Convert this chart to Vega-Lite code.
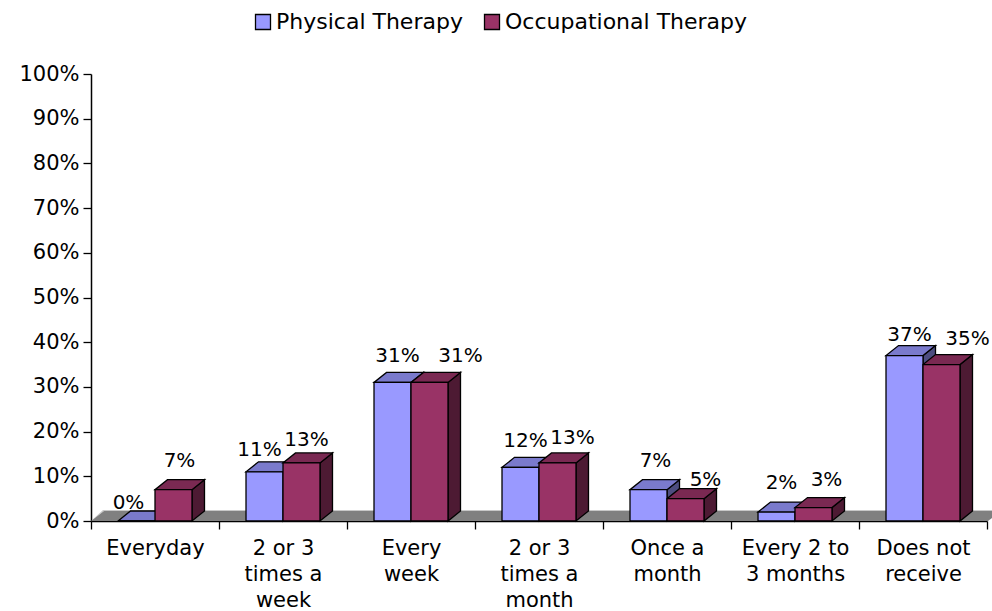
{"$schema":"https://vega.github.io/schema/vega-lite/v6.json","width":896,"height":447,"autosize":"none","padding":{"left":91,"top":74,"right":5,"bottom":90},"background":"white","config":{"view":{"stroke":null},"font":"DejaVu Sans"},"data":{"values":[{"category":"Everyday","therapy":"Physical Therapy","value":0,"label":"0%"},{"category":"Everyday","therapy":"Occupational Therapy","value":7,"label":"7%"},{"category":"2 or 3 times a week","therapy":"Physical Therapy","value":11,"label":"11%"},{"category":"2 or 3 times a week","therapy":"Occupational Therapy","value":13,"label":"13%"},{"category":"Every week","therapy":"Physical Therapy","value":31,"label":"31%"},{"category":"Every week","therapy":"Occupational Therapy","value":31,"label":"31%"},{"category":"2 or 3 times a month","therapy":"Physical Therapy","value":12,"label":"12%"},{"category":"2 or 3 times a month","therapy":"Occupational Therapy","value":13,"label":"13%"},{"category":"Once a month","therapy":"Physical Therapy","value":7,"label":"7%"},{"category":"Once a month","therapy":"Occupational Therapy","value":5,"label":"5%"},{"category":"Every 2 to 3 months","therapy":"Physical Therapy","value":2,"label":"2%"},{"category":"Every 2 to 3 months","therapy":"Occupational Therapy","value":3,"label":"3%"},{"category":"Does not receive","therapy":"Physical Therapy","value":37,"label":"37%"},{"category":"Does not receive","therapy":"Occupational Therapy","value":35,"label":"35%"}]},"encoding":{"x":{"field":"category","type":"nominal","sort":null,"scale":{"paddingInner":0,"paddingOuter":0},"axis":{"title":null,"labelAngle":0,"labelFontSize":21,"labelColor":"black","labelLineHeight":26,"labelPadding":8,"labelBaseline":"top","tickBand":"extent","tickSize":8,"tickColor":"black","tickWidth":1.3,"domainColor":"black","domainWidth":1.5,"labelExpr":"datum.label=='2 or 3 times a week'?['2 or 3','times a','week']:datum.label=='Every week'?['Every','week']:datum.label=='2 or 3 times a month'?['2 or 3','times a','month']:datum.label=='Once a month'?['Once a','month']:datum.label=='Every 2 to 3 months'?['Every 2 to','3 months']:datum.label=='Does not receive'?['Does not','receive']:datum.label"}},"y":{"field":"value","type":"quantitative","scale":{"domain":[0,100]},"axis":{"title":null,"values":[0,10,20,30,40,50,60,70,80,90,100],"labelExpr":"datum.value+'%'","labelFontSize":21,"labelColor":"black","labelPadding":4,"tickSize":8,"tickColor":"black","tickWidth":1.3,"domainColor":"black","domainWidth":1.5,"grid":false}}},"layer":[{"transform":[{"filter":"datum.category=='Everyday'&&datum.therapy=='Physical Therapy'"}],"mark":{"type":"point","filled":true,"opacity":1,"size":4,"fill":"#c8c8c8","shape":"M-64 0L-52 -11L846 -11L846 -10L-51 -10Z"},"encoding":{"y":{"datum":0,"type":"quantitative"}}},{"transform":[{"filter":"datum.category=='Everyday'&&datum.therapy=='Physical Therapy'"}],"mark":{"type":"point","filled":true,"opacity":1,"size":4,"fill":"#808080","shape":"M-64 0L-51 -10L846 -10L833 0Z"},"encoding":{"y":{"datum":0,"type":"quantitative"}}},{"transform":[{"filter":"datum.therapy=='Physical Therapy'"}],"mark":{"type":"point","filled":true,"opacity":1,"size":4,"fill":"#4D4D80","stroke":"black","strokeWidth":1.3},"encoding":{"xOffset":{"field":"therapy","sort":["Physical Therapy","Occupational Therapy"],"scale":{"paddingOuter":0.73,"paddingInner":0}},"shape":{"field":"value","type":"nominal","legend":null,"scale":{"domain":[0,2,3,5,7,11,12,13,31,35,37],"range":["M18.5 0L31 -10V-10L18.5 0Z","M18.5 0L31 -10V-1L18.5 9Z","M18.5 0L31 -10V3.4L18.5 13.4Z","M18.5 0L31 -10V12.4L18.5 22.4Z","M18.5 0L31 -10V21.3L18.5 31.3Z","M18.5 0L31 -10V39.2L18.5 49.2Z","M18.5 0L31 -10V43.6L18.5 53.6Z","M18.5 0L31 -10V48.1L18.5 58.1Z","M18.5 0L31 -10V128.6L18.5 138.6Z","M18.5 0L31 -10V146.5L18.5 156.5Z","M18.5 0L31 -10V155.4L18.5 165.4Z"]}}}},{"transform":[{"filter":"datum.therapy=='Occupational Therapy'"}],"mark":{"type":"point","filled":true,"opacity":1,"size":4,"fill":"#4D1A33","stroke":"black","strokeWidth":1.3},"encoding":{"xOffset":{"field":"therapy","sort":["Physical Therapy","Occupational Therapy"],"scale":{"paddingOuter":0.73,"paddingInner":0}},"shape":{"field":"value","type":"nominal","legend":null}}},{"transform":[{"filter":"datum.therapy=='Physical Therapy'"}],"mark":{"type":"point","filled":true,"opacity":1,"size":4,"fill":"#7A7ACC","stroke":"black","strokeWidth":1.3,"shape":"M-18.5 0L18.5 0L31 -10L-6 -10Z"},"encoding":{"xOffset":{"field":"therapy","sort":["Physical Therapy","Occupational Therapy"],"scale":{"paddingOuter":0.73,"paddingInner":0}}}},{"transform":[{"filter":"datum.therapy=='Occupational Therapy'"}],"mark":{"type":"point","filled":true,"opacity":1,"size":4,"fill":"#7A2952","stroke":"black","strokeWidth":1.3,"shape":"M-18.5 0L18.5 0L31 -10L-6 -10Z"},"encoding":{"xOffset":{"field":"therapy","sort":["Physical Therapy","Occupational Therapy"],"scale":{"paddingOuter":0.73,"paddingInner":0}}}},{"mark":{"type":"bar","stroke":"black","strokeWidth":1.3},"encoding":{"xOffset":{"field":"therapy","sort":["Physical Therapy","Occupational Therapy"],"scale":{"paddingOuter":0.73,"paddingInner":0}},"color":{"field":"therapy","type":"nominal","scale":{"domain":["Physical Therapy","Occupational Therapy"],"range":["#9999FF","#993366"]},"legend":{"title":null,"orient":"none","legendX":161,"legendY":-63,"direction":"horizontal","columns":2,"symbolType":"square","symbolSize":225,"symbolStrokeColor":"black","symbolStrokeWidth":1.3,"labelFontSize":22,"labelColor":"black","labelOffset":2,"labelLimit":300,"columnPadding":18}}}},{"encoding":{"text":{"field":"label","type":"nominal"},"xOffset":{"field":"therapy","sort":["Physical Therapy","Occupational Therapy"],"scale":{"paddingOuter":0.73,"paddingInner":0}}},"layer":[{"transform":[{"filter":"datum.therapy=='Physical Therapy'&&datum.category=='Everyday'"}],"mark":{"type":"text","fontSize":20,"color":"black","dx":-8,"dy":-18}},{"transform":[{"filter":"datum.therapy=='Physical Therapy'&&datum.category=='Once a month'"}],"mark":{"type":"text","fontSize":20,"color":"black","dx":7,"dy":-29}},{"transform":[{"filter":"datum.therapy=='Physical Therapy'&&datum.value==11"}],"mark":{"type":"text","fontSize":20,"color":"black","dx":-5,"dy":-22}},{"transform":[{"filter":"datum.therapy=='Physical Therapy'&&(datum.value==31||datum.value==12)"}],"mark":{"type":"text","fontSize":20,"color":"black","dx":5,"dy":-26}},{"transform":[{"filter":"datum.therapy=='Physical Therapy'&&datum.value==2"}],"mark":{"type":"text","fontSize":20,"color":"black","dx":5,"dy":-29}},{"transform":[{"filter":"datum.therapy=='Physical Therapy'&&datum.value==37"}],"mark":{"type":"text","fontSize":20,"color":"black","dx":5,"dy":-21}},{"transform":[{"filter":"datum.therapy=='Occupational Therapy'&&datum.value==7"}],"mark":{"type":"text","fontSize":20,"color":"black","dx":6,"dy":-29}},{"transform":[{"filter":"datum.therapy=='Occupational Therapy'&&datum.category=='2 or 3 times a week'"}],"mark":{"type":"text","fontSize":20,"color":"black","dx":5,"dy":-23}},{"transform":[{"filter":"datum.therapy=='Occupational Therapy'&&datum.value==31"}],"mark":{"type":"text","fontSize":20,"color":"black","dx":31,"dy":-26}},{"transform":[{"filter":"datum.therapy=='Occupational Therapy'&&datum.category=='2 or 3 times a month'"}],"mark":{"type":"text","fontSize":20,"color":"black","dx":15,"dy":-25}},{"transform":[{"filter":"datum.therapy=='Occupational Therapy'&&datum.value==5"}],"mark":{"type":"text","fontSize":20,"color":"black","dx":20,"dy":-19}},{"transform":[{"filter":"datum.therapy=='Occupational Therapy'&&datum.value==3"}],"mark":{"type":"text","fontSize":20,"color":"black","dx":13,"dy":-28}},{"transform":[{"filter":"datum.therapy=='Occupational Therapy'&&datum.value==35"}],"mark":{"type":"text","fontSize":20,"color":"black","dx":26,"dy":-26}}]}]}
